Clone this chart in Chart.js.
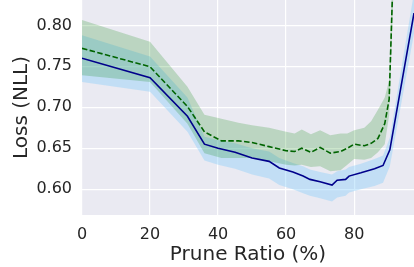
<!DOCTYPE html>
<html>
<head>
<meta charset="utf-8">
<script src="https://cdn.jsdelivr.net/npm/chart.js@4/dist/chart.umd.min.js"></script>
<style>
html,body{margin:0;padding:0;background:#fff;}
#wrap{width:414px;height:267px;position:relative;}
</style>
</head>
<body>
<div id="wrap"><canvas id="c" width="414" height="267"></canvas></div>
<script>
// Dense model (solid navy) — prune ratio vs loss
const blueX    = [0, 20, 31, 36, 40, 45, 50, 55, 58, 62, 65, 67, 70, 73.5, 75, 77.5, 78.5, 82, 86, 88.5, 90.5, 97.6];
const blueMean = [0.760, 0.736, 0.689, 0.655, 0.650, 0.645, 0.638, 0.634, 0.626, 0.621, 0.616, 0.612, 0.609, 0.605, 0.611, 0.612, 0.616, 0.620, 0.625, 0.629, 0.648, 0.815];
const blueHi   = [0.788, 0.762, 0.712, 0.664, 0.660, 0.656, 0.650, 0.646, 0.638, 0.632, 0.628, 0.624, 0.621, 0.618, 0.622, 0.624, 0.627, 0.631, 0.637, 0.641, 0.663, 0.840];
const blueLo   = [0.731, 0.719, 0.670, 0.635, 0.630, 0.625, 0.618, 0.613, 0.605, 0.600, 0.595, 0.592, 0.589, 0.585, 0.590, 0.592, 0.596, 0.600, 0.604, 0.608, 0.628, 0.790];

// Second model (dashed green)
const greenX    = [0, 20, 31, 36, 41, 46, 50, 55, 60, 62.5, 64.6, 67.3, 70, 73, 76, 78, 80, 83, 85, 87, 89, 90.3, 92.5];
const greenMean = [0.772, 0.7495, 0.701, 0.670, 0.659, 0.659, 0.657, 0.652, 0.647, 0.646, 0.650, 0.645, 0.651, 0.644, 0.646, 0.650, 0.655, 0.653, 0.656, 0.662, 0.680, 0.710, 1.000];
const greenHi   = [0.8065, 0.780, 0.725, 0.691, 0.686, 0.681, 0.678, 0.675, 0.670, 0.668, 0.673, 0.667, 0.672, 0.666, 0.668, 0.668, 0.672, 0.675, 0.683, 0.697, 0.712, 0.733, 1.050];
const greenLo   = [0.739, 0.731, 0.680, 0.644, 0.638, 0.638, 0.638, 0.634, 0.630, 0.629, 0.630, 0.627, 0.628, 0.622, 0.623, 0.630, 0.637, 0.636, 0.638, 0.645, 0.655, 0.690, 0.950];

const xTicks = [0, 20, 40, 60, 80];
const yTicks = [0.60, 0.65, 0.70, 0.75, 0.80];

const pts = (xs, ys) => xs.map((x, i) => ({x: x, y: ys[i]}));

const bgPlugin = {
  id: 'bg',
  beforeDraw(chart) {
    const {ctx, chartArea: a} = chart;
    ctx.save();
    ctx.fillStyle = '#EAEAF2';
    ctx.fillRect(a.left, a.top, a.right - a.left, a.bottom - a.top);
    ctx.restore();
  }
};

const TXT = '#262626';
const FONT = "'DejaVu Sans', sans-serif";

new Chart(document.getElementById('c'), {
  type: 'line',
  data: {
    datasets: [
      {data: pts(blueX, blueHi), borderWidth: 0, pointRadius: 0, fill: 1, backgroundColor: 'rgba(135,206,250,0.4)', order: 4},
      {data: pts(blueX, blueLo), borderWidth: 0, pointRadius: 0, fill: false, order: 4},
      {data: pts(greenX, greenHi), borderWidth: 0, pointRadius: 0, fill: 3, backgroundColor: 'rgba(0,128,0,0.2)', order: 3},
      {data: pts(greenX, greenLo), borderWidth: 0, pointRadius: 0, fill: false, order: 3},
      {data: pts(greenX, greenMean), borderColor: '#006400', borderWidth: 1.6, borderDash: [5.5, 2.4], pointRadius: 0, fill: false, order: 1},
      {data: pts(blueX, blueMean), borderColor: '#00008B', borderWidth: 1.6, pointRadius: 0, fill: false, order: 0}
    ]
  },
  options: {
    responsive: false,
    animation: false,
    devicePixelRatio: 1,
    layout: {padding: 0},
    plugins: {legend: {display: false}, tooltip: {enabled: false}},
    elements: {line: {tension: 0}},
    scales: {
      x: {
        type: 'linear', min: 0, max: 97.6,
        afterFit(s) { s.height = 52; s.paddingLeft = 0; s.paddingRight = 0; s.paddingTop = 0; s.paddingBottom = 0; },
        afterBuildTicks(s) { s.ticks = xTicks.map(v => ({value: v})); },
        ticks: {font: {family: FONT, size: 16}, color: TXT, padding: 10, callback: v => String(v)},
        grid: {color: '#ffffff', lineWidth: 1.2, drawTicks: false},
        border: {display: false},
        title: {display: true, text: 'Prune Ratio (%)', font: {family: FONT, size: 20}, color: TXT, padding: {top: 0, bottom: 0}}
      },
      y: {
        min: 0.5685, max: 0.831,
        afterFit(s) { s.width = 82; s.paddingTop = 0; s.paddingBottom = 0; s.paddingLeft = 0; s.paddingRight = 0; },
        afterBuildTicks(s) { s.ticks = yTicks.map(v => ({value: v})); },
        ticks: {font: {family: FONT, size: 16}, color: TXT, padding: 10, callback: v => v.toFixed(2)},
        grid: {color: '#ffffff', lineWidth: 1.2, drawTicks: false},
        border: {display: false},
        title: {display: true, text: 'Loss (NLL)', font: {family: FONT, size: 20}, color: TXT, padding: {top: 10, bottom: 0}}
      }
    }
  },
  plugins: [bgPlugin]
});
</script>
</body>
</html>
